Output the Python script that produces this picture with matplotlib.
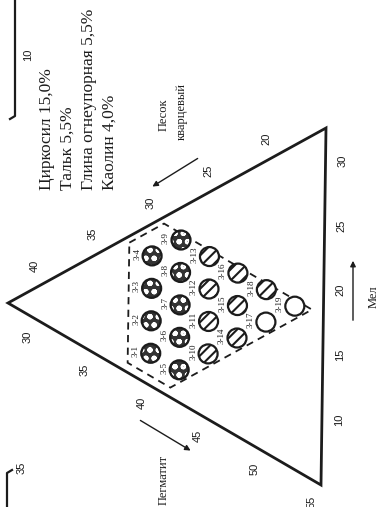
'''
Ternary diagram: pegmatite / chalk / quartz sand, batch series 3
'''

import numpy as np
import matplotlib.pyplot as plt
from matplotlib.patches import Circle, Polygon

plt.rcParams['font.family'] = ['Liberation Serif', 'DejaVu Serif']
plt.rcParams['hatch.linewidth'] = 1.5

# frame of the diagram, wt.% (the three components add up to 75)
total = 75.0
peg_min, mel_min, sand_min = 27.5, 5.0, 15.0
side = total - peg_min - mel_min - sand_min

# corners of the frame on the page: max sand, max pegmatite, max chalk
corner_sand = (8, 303)
corner_peg = (321, 485)
corner_mel = (326, 128)

# batch compositions
samples = ['3-1', '3-2', '3-3', '3-4', '3-5', '3-6', '3-7', '3-8', '3-9', '3-10',
           '3-11', '3-12', '3-13', '3-14', '3-15', '3-16', '3-17', '3-18', '3-19']
pegmatite = [37.5, 35, 32.5, 30, 40, 37.5, 35, 32.5, 30, 40,
             37.5, 35, 32.5, 40, 37.5, 35, 40, 37.5, 40]
chalk = [7.5, 10, 12.5, 15, 7.5, 10, 12.5, 15, 17.5, 10,
         12.5, 15, 17.5, 12.5, 15, 17.5, 15, 17.5, 17.5]
sand = [30, 30, 30, 30, 27.5, 27.5, 27.5, 27.5, 27.5, 25,
        25, 25, 25, 22.5, 22.5, 22.5, 20, 20, 17.5]
pattern = ['dots'] * 9 + ['stripes'] * 7 + ['open', 'stripes', 'open']

# studied area (pegmatite, chalk, sand)
area_peg = [28, 28, 41, 41, 37.25]
area_mel = [15, 18, 18, 5.75, 5.75]
area_sand = [32, 29, 16, 28.25, 32]

# axis ticks
mel_ticks = [10, 15, 20, 25, 30]
sand_ticks = [20, 25, 30, 35, 40]
peg_ticks = [30, 35, 40, 45, 50, 55]

additives = ['Циркосил 15,0%', 'Тальк 5,5%', 'Глина огнеупорная 5,5%', 'Каолин 4,0%']


def tern(peg, mel, sand):
    '''ternary composition -> page position'''
    peg, mel, sand = np.asarray(peg, float), np.asarray(mel, float), np.asarray(sand, float)
    ws = (sand - sand_min) / side
    wp = (peg - peg_min) / side
    wm = (mel - mel_min) / side
    x = ws * corner_sand[0] + wp * corner_peg[0] + wm * corner_mel[0]
    y = ws * corner_sand[1] + wp * corner_peg[1] + wm * corner_mel[1]
    return x, y


fig = plt.figure(figsize=(3.79, 5.07), dpi=100)
ax = fig.add_axes([0, 0, 1, 1])
ax.set_xlim(0, 379)
ax.set_ylim(507, 0)
ax.axis('off')

ink = '#1c1c1c'

# triangle
fx, fy = tern([peg_min, peg_min + side, peg_min],
              [mel_min, mel_min, mel_min + side],
              [sand_min + side, sand_min, sand_min])
ax.add_patch(Polygon(np.column_stack([fx, fy]), closed=True, fill=False,
                     ec=ink, lw=2.0, joinstyle='miter'))

# studied area
ax_, ay_ = tern(area_peg, area_mel, area_sand)
ax.add_patch(Polygon(np.column_stack([ax_, ay_]), closed=True, fill=False,
                     ec=ink, lw=1.3, ls=(0, (4, 3))))

# samples
px, py = tern(pegmatite, chalk, sand)
r = 9.5
for name, x, y, pat in zip(samples, px, py, pattern):
    if pat == 'dots':
        ax.add_patch(Circle((x, y), r, fc='#333333', ec='none', zorder=3))
        ax.add_patch(Circle((x, y), r - 1, fc='none', ec='white', lw=0,
                            hatch='oo', zorder=4))
    elif pat == 'stripes':
        ax.add_patch(Circle((x, y), r, fc='white', ec=ink, lw=0,
                            hatch='///', zorder=3))
    else:
        ax.add_patch(Circle((x, y), r, fc='white', ec='none', zorder=3))
    ax.add_patch(Circle((x, y), r, fc='none', ec=ink, lw=1.6, zorder=5))
    ax.text(x - 15, y - 2, name, rotation=90, fontsize=6.5,
            ha='center', va='center', rotation_mode='anchor', color=ink)

# tick labels
num = dict(rotation=90, rotation_mode='anchor', ha='center', va='center',
           fontsize=8, color=ink, family=['Liberation Sans', 'DejaVu Sans'])
mx, my = tern([total - sand_min - m for m in mel_ticks], mel_ticks, [sand_min] * len(mel_ticks))
for v, x, y in zip(mel_ticks, mx, my):
    ax.text(x + 17, y, str(v), **num)
sx, sy = tern([peg_min] * len(sand_ticks), [total - peg_min - s for s in sand_ticks], sand_ticks)
for v, x, y in zip(sand_ticks, sx, sy):
    ax.text(x - 2, y - 21, str(v), **num)
gx, gy = tern(peg_ticks, [mel_min] * len(peg_ticks), [total - mel_min - p for p in peg_ticks])
for v, x, y in zip(peg_ticks, gx, gy):
    ax.text(x - 9, y + 17, str(v), **num)

# numbers and frame corners of the neighbouring figures
ax.text(28, 55, '10', **num)
ax.text(22, 468, '35', **num)
ax.plot([15, 15, 10], [0, 116, 119], color=ink, lw=1.6)
ax.plot([12, 7, 7], [470, 473, 507], color=ink, lw=1.6)

# additives
for i, line in enumerate(additives):
    ax.text(51 + 21 * i, 190, line, rotation=90, rotation_mode='anchor',
            ha='left', va='baseline', fontsize=12.5, color=ink)

# component arrows and names
arw = dict(arrowstyle='-|>', color=ink, lw=1.0, mutation_scale=8)
ax.annotate('', xy=(150, 188), xytext=(200, 157), arrowprops=arw)
ax.annotate('', xy=(353, 258), xytext=(353, 323), arrowprops=arw)
ax.annotate('', xy=(193, 452), xytext=(138, 419), arrowprops=arw)

lab = dict(rotation=90, rotation_mode='anchor', ha='center', va='baseline',
           fontsize=9, color=ink)
ax.text(167, 115, 'Песок', **lab)
ax.text(185, 112, 'кварцевый', **lab)
ax.text(377, 297, 'Мел', **lab)
ax.text(167, 480, 'Пегматит', **lab)

fig.savefig('out.png', dpi=100, facecolor='white')
